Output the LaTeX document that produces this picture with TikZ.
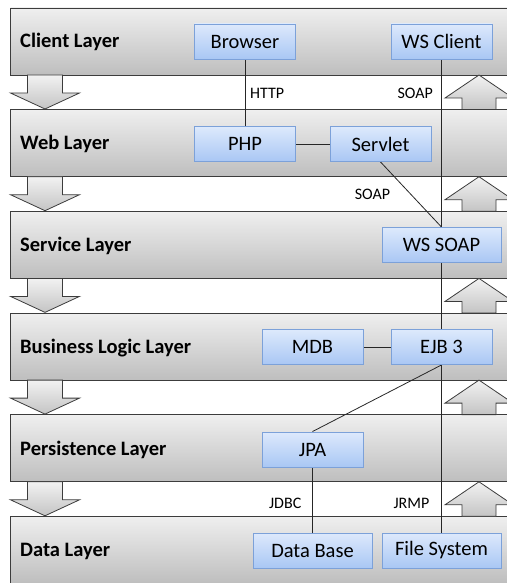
\documentclass[tikz,border=0pt]{standalone}
\usepackage{fontspec}
\setmainfont{Carlito}
\pgfdeclarelayer{background}
\pgfdeclarelayer{lines}
\pgfsetlayers{background,lines,main}
\definecolor{layertop}{HTML}{EFEFEF}
\definecolor{layerbot}{HTML}{BEBEBE}
\definecolor{layerline}{HTML}{3C3C3C}
\definecolor{boxtop}{HTML}{DDE9FC}
\definecolor{boxbot}{HTML}{A9C7F4}
\definecolor{boxline}{HTML}{7CA1D9}
\definecolor{arrtop}{HTML}{F2F2F2}
\definecolor{arrbot}{HTML}{C4C4C4}
\tikzset{
  layerbox/.style={draw=layerline, line width=0.9pt, top color=layertop, bottom color=layerbot},
  layerlabel/.style={anchor=west, inner sep=0pt, font=\fontsize{20.5}{22}\selectfont\bfseries},
  comp/.style={draw=boxline, line width=0.9pt, top color=boxtop, bottom color=boxbot,
    minimum width=101pt, minimum height=35pt, inner sep=0pt, font=\fontsize{20.5}{22}\selectfont},
  wide/.style={minimum width=119pt},
  proto/.style={inner sep=0pt, font=\fontsize{16}{18}\selectfont},
  conn/.style={draw=black!85, line width=0.8pt},
  flowarrow/.style={draw=layerline, line width=0.8pt, top color=arrtop, bottom color=arrbot},
}
\begin{document}
\begin{tikzpicture}[x=1pt,y=-1pt]
\useasboundingbox (0,0) rectangle (506,583);
% layers
\begin{pgfonlayer}{background}
\foreach \t in {8,109.7,211.4,313.1,414.8,516.5}{
  \path[layerbox] (10.5,\t) rectangle (540,\t+67);
}
% down arrows on the left
\foreach \b in {75,176.7,278.4,380.1,481.8}{
  \path[flowarrow] (27.5,\b) -- (62.5,\b) -- (62.5,\b+18) -- (79.5,\b+18) -- (45,\b+34) -- (10.5,\b+18) -- (27.5,\b+18) -- cycle;
}
% up arrows on the right
\foreach \b in {75,176.7,278.4,380.1,481.8}{
  \path[flowarrow] (462,\b+34.5) -- (462,\b+23) -- (445,\b+23) -- (479,\b) -- (513,\b+23) -- (496,\b+23) -- (496,\b+34.5) -- cycle;
}
\end{pgfonlayer}
% layer labels
\node[layerlabel] (lclient) at (20,42) {Client Layer};
\node[layerlabel] (lweb) at (20,144) {Web Layer};
\node[layerlabel] (lservice) at (20,246) {Service Layer};
\node[layerlabel] (lbusiness) at (20,348) {Business Logic Layer};
\node[layerlabel] (lpersist) at (20,450) {Persistence Layer};
\node[layerlabel] (ldata) at (20,551) {Data Layer};
% components
\node[comp] (browser) at (245,41.5) {Browser};
\node[comp] (wsc) at (441.5,41.5) {WS Client};
\node[comp] (php) at (245,144) {PHP};
\node[comp] (servlet) at (380.5,144) {Servlet};
\node[comp,wide] (wssoap) at (441.5,245) {WS SOAP};
\node[comp] (mdb) at (312.5,347) {MDB};
\node[comp] (ejb) at (441.5,347) {EJB 3};
\node[comp] (jpa) at (312.5,449.5) {JPA};
\node[comp,wide] (db) at (312.5,550.5) {Data Base};
\node[comp,wide] (fs) at (441.5,550.5) {File System};
% connectors
\begin{pgfonlayer}{lines}
\draw[conn] (browser.south) -- (php.north);
\draw[conn] (php.east) -- (servlet.east -| servlet.west);
\draw[conn] (wsc.south) -- (fs.north);
\draw[conn] (servlet.south) -- (wssoap.north);
\draw[conn] (mdb.east) -- (ejb.west);
\draw[conn] (ejb.south) -- (jpa.north);
\draw[conn] (jpa.south) -- (db.north);
\end{pgfonlayer}
% protocol labels
\node[proto,anchor=west] (http) at (250,93) {HTTP};
\node[proto,anchor=east] (soap1) at (433,93) {SOAP};
\node[proto] (soap2) at (372.5,194) {SOAP};
\node[proto,anchor=east] (jdbc) at (301.5,503) {JDBC};
\node[proto,anchor=east] (jrmp) at (429.5,503) {JRMP};
\end{tikzpicture}
\end{document}
